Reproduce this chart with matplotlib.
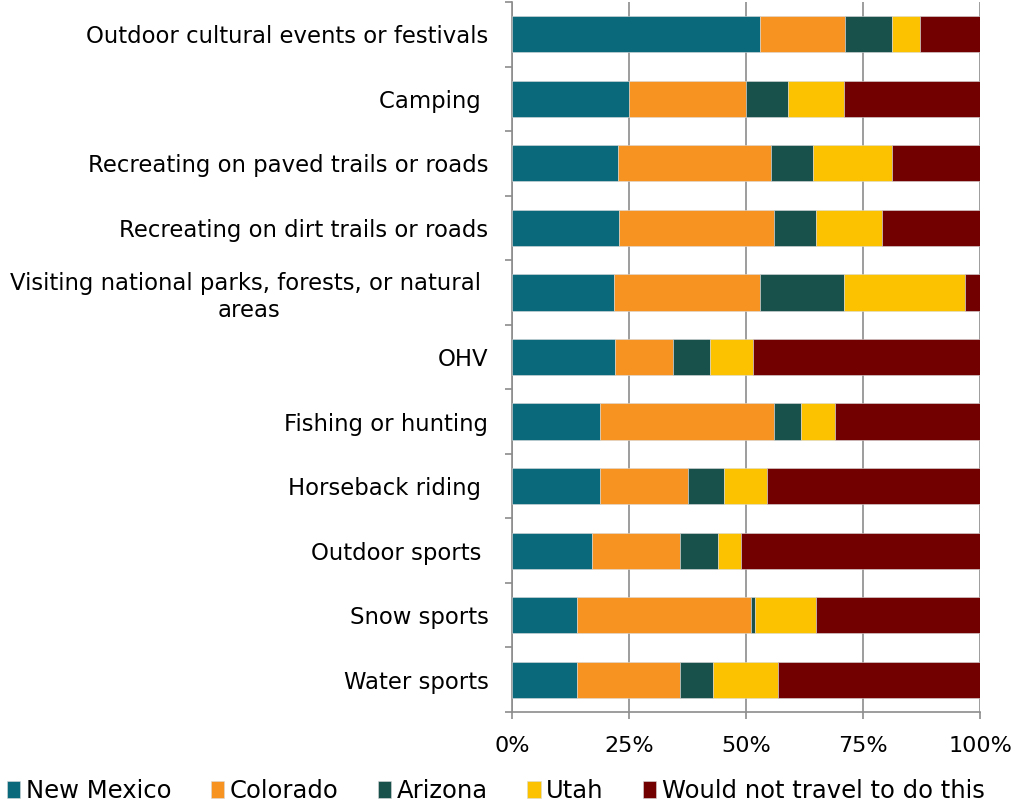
import matplotlib.pyplot as plt
import numpy as np

# Activities (top to bottom)
activities = [
    'Outdoor cultural events or festivals',
    'Camping ',
    'Recreating on paved trails or roads',
    'Recreating on dirt trails or roads',
    'Visiting national parks, forests, or natural \nareas',
    'OHV',
    'Fishing or hunting',
    'Horseback riding ',
    'Outdoor sports ',
    'Snow sports',
    'Water sports',
]

# Share of respondents (%) by preferred state
new_mexico = [53.0, 25.0, 22.7, 22.9, 21.9, 22.1, 18.9, 18.8, 17.0, 13.9, 13.9]
colorado = [18.1, 25.0, 32.7, 33.0, 31.1, 12.2, 37.0, 18.8, 19.0, 37.1, 22.1]
arizona = [10.0, 9.0, 8.9, 9.0, 17.9, 8.1, 5.9, 7.8, 8.0, 0.9, 6.9]
utah = [6.0, 12.0, 16.9, 14.1, 26.0, 9.1, 7.2, 9.0, 5.0, 13.0, 14.0]
would_not = [12.9, 29.0, 18.8, 21.0, 3.1, 48.5, 31.0, 45.6, 51.0, 35.1, 43.1]

series = ['New Mexico', 'Colorado', 'Arizona', 'Utah', 'Would not travel to do this']
colors = ['#0A6A7C', '#F79421', '#18504C', '#FCC200', '#720000']

plt.rcParams['font.family'] = ['DejaVu Sans']

fig = plt.figure(figsize=(10.13, 8.05), dpi=100)
ax = fig.add_axes([512 / 1013, 1 - 712 / 805, 468 / 1013, 710 / 805])

y = np.arange(len(activities))
left = np.zeros(len(activities))
for name, vals, c in zip(series, [new_mexico, colorado, arizona, utah, would_not], colors):
    vals = np.array(vals)
    ax.barh(y, vals, left=left, height=0.56, color=c, label=name,
            edgecolor='#d9d9d9', linewidth=0.4, zorder=3)
    left += vals

ax.set_xlim(0, 100)
ax.set_ylim(len(activities) - 0.5, -0.5)
ax.set_xticks([0, 25, 50, 75, 100])
ax.set_xticklabels(['0%', '25%', '50%', '75%', '100%'])
ax.set_yticks(y)
ax.set_yticklabels(activities, ha='right', multialignment='center')
ax.set_yticks(np.arange(len(activities) + 1) - 0.5, minor=True)
ax.tick_params(axis='y', which='major', length=0, pad=17, labelsize=16.4)
ax.tick_params(axis='y', which='minor', length=5, width=1.2, color='#8c8c8c')
ax.tick_params(axis='x', length=5, width=1.2, color='#8c8c8c', labelsize=16, pad=12)

ax.grid(axis='x', color='#8c8c8c', linewidth=1.2, zorder=0)
for s in ['top', 'right']:
    ax.spines[s].set_visible(False)
for s in ['left', 'bottom']:
    ax.spines[s].set_color('#8c8c8c')
    ax.spines[s].set_linewidth(1.2)

fig.legend(loc='lower left', bbox_to_anchor=(-0.01, -0.019), ncol=5, frameon=False,
           fontsize=17.5, handlelength=0.55, handleheight=0.7, handletextpad=0.22,
           columnspacing=1.63, borderpad=0.2)

fig.savefig('out.png', dpi=100)
